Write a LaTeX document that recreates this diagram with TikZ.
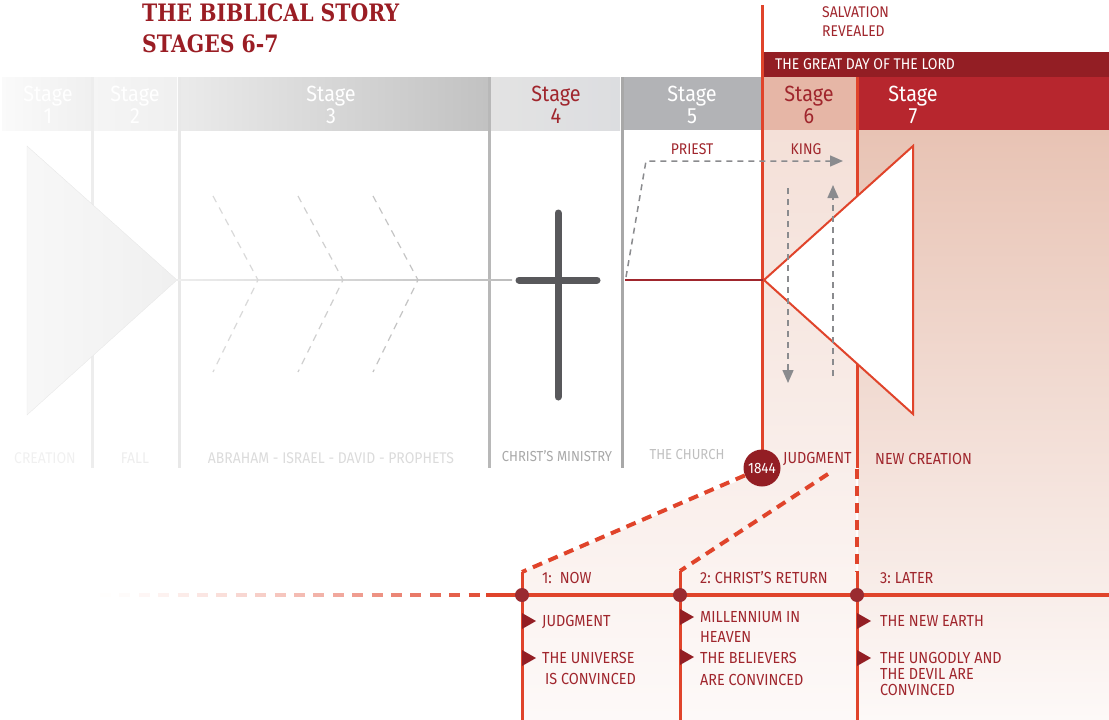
\documentclass[tikz,border=0pt]{standalone}
\usepackage{fontspec}
\setmainfont{Fira Sans}[FakeStretch=0.9]
\newfontfamily\titlefont{DejaVu Serif}[FakeStretch=0.85]
\usetikzlibrary{arrows.meta,calc}

\definecolor{titlered}{HTML}{9A1D24}
\definecolor{darkred}{HTML}{931E24}
\definecolor{textred}{HTML}{A0262D}
\definecolor{dotred}{HTML}{9A2A30}
\definecolor{linered}{HTML}{E0442B}
\definecolor{stagesev}{HTML}{B7262E}
\definecolor{stagesix}{HTML}{E6B6A6}
\definecolor{stagefive}{HTML}{B2B3B6}
\definecolor{stagefour}{HTML}{DCDDE0}
\definecolor{crossgrey}{HTML}{58585B}
\definecolor{arrowgrey}{HTML}{8A8B8E}
\definecolor{bgtop}{HTML}{E8C3B4}
\definecolor{bgsix}{HTML}{F4E0D8}
\definecolor{bgbottom}{HTML}{FDF9F8}

\begin{document}
\begin{tikzpicture}[
  x=1pt, y=-1pt, % pixel units, y runs downwards
  >={Triangle[length=13pt,width=11pt]}, % grey arrow heads
  stagetext/.style={anchor=base, align=center, inner sep=0pt, font=\fontsize{22}{22}\selectfont}, % text in the stage bar
  txt/.style={anchor=base west, align=left, inner sep=0pt, text=textred, font=\fontsize{16}{20}\selectfont}, % red labels
  rowtext/.style={anchor=base, inner sep=0pt, font=\fontsize{15.5}{16}\selectfont}, % labels under the stages
  redline/.style={line width=3pt, draw=linered},
  reddash/.style={line width=4pt, draw=linered, dash pattern=on 10pt off 7pt},
  greydash/.style={->, line width=1.5pt, draw=arrowgrey, dash pattern=on 6pt off 5pt},
  chevron/.style={line width=1.2pt, dash pattern=on 7pt off 6pt},
  dot/.style={circle, fill=dotred, minimum size=14pt, inner sep=0pt} % points on the timeline
  ]
  \path[use as bounding box] (0,0) rectangle (1109,720);

  % backgrounds of stage 6 and 7
  \shade[top color=bgtop, bottom color=bgbottom] (858,130) rectangle (1109,720);
  \shade[top color=bgsix, bottom color=bgbottom]
    (763,130) -- (856,130) -- (856,720) -- (522,720) -- (522,572) -- (745,478) -- (763,462) -- cycle;

  % title (base = last line)
  \node[anchor=base west, inner sep=0pt, text=titlered, font=\titlefont\bfseries\fontsize{24}{31}\selectfont, align=left]
    (title) at (142,52) {THE BIBLICAL STORY\\STAGES 6-7};
  \node[txt, font=\fontsize{15.5}{19}\selectfont] (salv) at (822,36) {SALVATION\\REVEALED};

  % stage bar
  \shade[left color=white!98!black, right color=white!94!black] (2,77) rectangle (91,130);
  \shade[left color=white!96!black, right color=white!94!black] (93,77) rectangle (177,130);
  \shade[left color=white!92!black, right color=white!76!black] (180,77) rectangle (488,130);
  \shade[left color=white!89!black, right color=stagefour] (490,77) rectangle (620,130);
  \fill[stagefive] (622,77) rectangle (761,130);
  \fill[stagesix] (763,77) rectangle (856,130);
  \fill[stagesev] (858,77) rectangle (1109,130);
  \fill[darkred] (762,52) rectangle (1109,77);
  \node[txt, text=white, font=\fontsize{15.5}{16}\selectfont] (day) at (775,69) {THE GREAT DAY OF THE LORD};

  \node[stagetext, text=white] (st1) at (48,123) {Stage\\1};
  \node[stagetext, text=white] (st2) at (135,123) {Stage\\2};
  \node[stagetext, text=white] (st3) at (331,123) {Stage\\3};
  \node[stagetext, text=textred] (st4) at (556,123) {Stage\\4};
  \node[stagetext, text=white] (st5) at (692,123) {Stage\\5};
  \node[stagetext, text=textred] (st6) at (809,123) {Stage\\6};
  \node[stagetext, text=white] (st7) at (913,123) {Stage\\7};

  % stage borders
  \draw[line width=3pt, white!93!black] (92,77) -- (92,468);
  \draw[line width=3pt, white!91!black] (179,77) -- (179,468);
  \draw[line width=3pt, white!72!black] (489,77) -- (489,468);
  \draw[line width=3pt, white!66!black] (622,77) -- (622,468);
  \draw[redline] (762,5) -- (762,460);
  \draw[redline] (857,77) -- (857,468);

  % creation, fall and the old covenant
  \shade[left color=white!97!black, right color=white!94!black, draw=white!91!black]
    (27,146) -- (177,280) -- (27,415) -- cycle;
  \shade[left color=white!93!black, right color=white!74!black] (177,279.2) rectangle (512,280.8);
  \foreach \x/\c in {258/85, 343/81, 418/77}
    \draw[chevron, white!\c!black] (\x-45,196) -- (\x,280) -- (\x-45,372);

  % the cross
  \draw[crossgrey, line width=7pt, line cap=round] (558,213) -- (558,397);
  \draw[crossgrey, line width=7pt, line cap=round] (519,280) -- (597,280);

  % the church and the judgment
  \coordinate (church) at (625,280);
  \coordinate (apex) at (764,280);
  \draw[textred, line width=1.5pt] (church) -- (apex);
  \draw[linered, line width=2pt, fill=white] (apex) -- (913,146) -- (913,414) -- cycle;

  \coordinate (priest) at (646,161);
  \coordinate (king) at (843,161);
  \draw[greydash] (626,277) -- (priest) -- (king);
  \draw[greydash] (788,188) -- (788,383);
  \draw[greydash] (833,376) -- (833,185);
  \node[rowtext, text=textred] (pr) at (692,154) {PRIEST};
  \node[rowtext, text=textred] (kg) at (806,154) {KING};

  % labels under the stages
  \node[rowtext, text=white!94!black] (cre) at (45,463) {CREATION};
  \node[rowtext, text=white!93!black] (fall) at (135,463) {FALL};
  \node[rowtext, text=white!86!black] (abr) at (331,463) {ABRAHAM - ISRAEL - DAVID - PROPHETS};
  \node[rowtext, text=white!66!black, font=\fontsize{14.5}{15}\selectfont] (min) at (557,461) {CHRIST'S MINISTRY};
  \node[rowtext, text=white!75!black, font=\fontsize{14.5}{15}\selectfont] (chu) at (687,459) {THE CHURCH};
  \node[txt] (jud) at (783,463) {JUDGMENT};
  \node[txt] (newc) at (875,464) {NEW CREATION};

  % the three parts of stage 6-7
  \coordinate (a1) at (522,572);
  \coordinate (a2) at (680,571);
  \coordinate (a3) at (857,572);
  \coordinate (j1) at (828,474);
  \node[circle, fill=darkred, minimum size=37pt, inner sep=0pt, text=white, font=\fontsize{15}{15}\selectfont]
    (year) at (762,468) {1844};
  \draw[reddash] (year) -- (a1);
  \draw[reddash] (j1) -- (a2);
  \draw[reddash] (857,469) -- (a3);
  \draw[redline] (a1) -- (522,720);
  \draw[redline] (a2) -- (680,720);
  \draw[redline] (a3) -- (857,720);

  % timeline
  \foreach \i [evaluate=\i as \op using ((\i+1)/21)^1.6] in {0,...,19}
    \draw[linered, line width=3.5pt, opacity=\op] ({100+19.4*\i},595) -- ++(11,0);
  \coordinate (tl) at (486,595);
  \coordinate (tr) at (1109,595);
  \draw[linered, line width=3.5pt] (tl) -- (tr);
  \node[dot] (now) at (522,595) {};
  \node[dot] (ret) at (680,595) {};
  \node[dot] (later) at (857,595) {};
  \node[txt] at (542,583) {1:\hspace{8pt}NOW};
  \node[txt] at (700,583) {2:\hspace{4pt}CHRIST'S RETURN};
  \node[txt] at (880,583) {3:\hspace{4pt}LATER};

  % bullets
  \foreach \x/\y in {522/621, 522/658, 680/617, 680/657, 857/621, 857/658}
    \fill[darkred] (\x,\y-8) -- (\x+14,\y) -- (\x,\y+8) -- cycle;
  \node[txt] (b1) at (542,626) {JUDGMENT};
  \node[txt, font=\fontsize{16}{21}\selectfont] (b2) at (542,684) {THE UNIVERSE\\\hspace{3pt}IS CONVINCED};
  \node[txt] (b3) at (700,642) {MILLENNIUM IN\\HEAVEN};
  \node[txt, font=\fontsize{16}{22}\selectfont] (b4) at (700,685) {THE BELIEVERS\\ARE CONVINCED};
  \node[txt] (b5) at (880,626) {THE NEW EARTH};
  \node[txt, font=\fontsize{16}{16}\selectfont] (b6) at (880,695) {THE UNGODLY AND\\THE DEVIL ARE\\CONVINCED};
\end{tikzpicture}
\end{document}
